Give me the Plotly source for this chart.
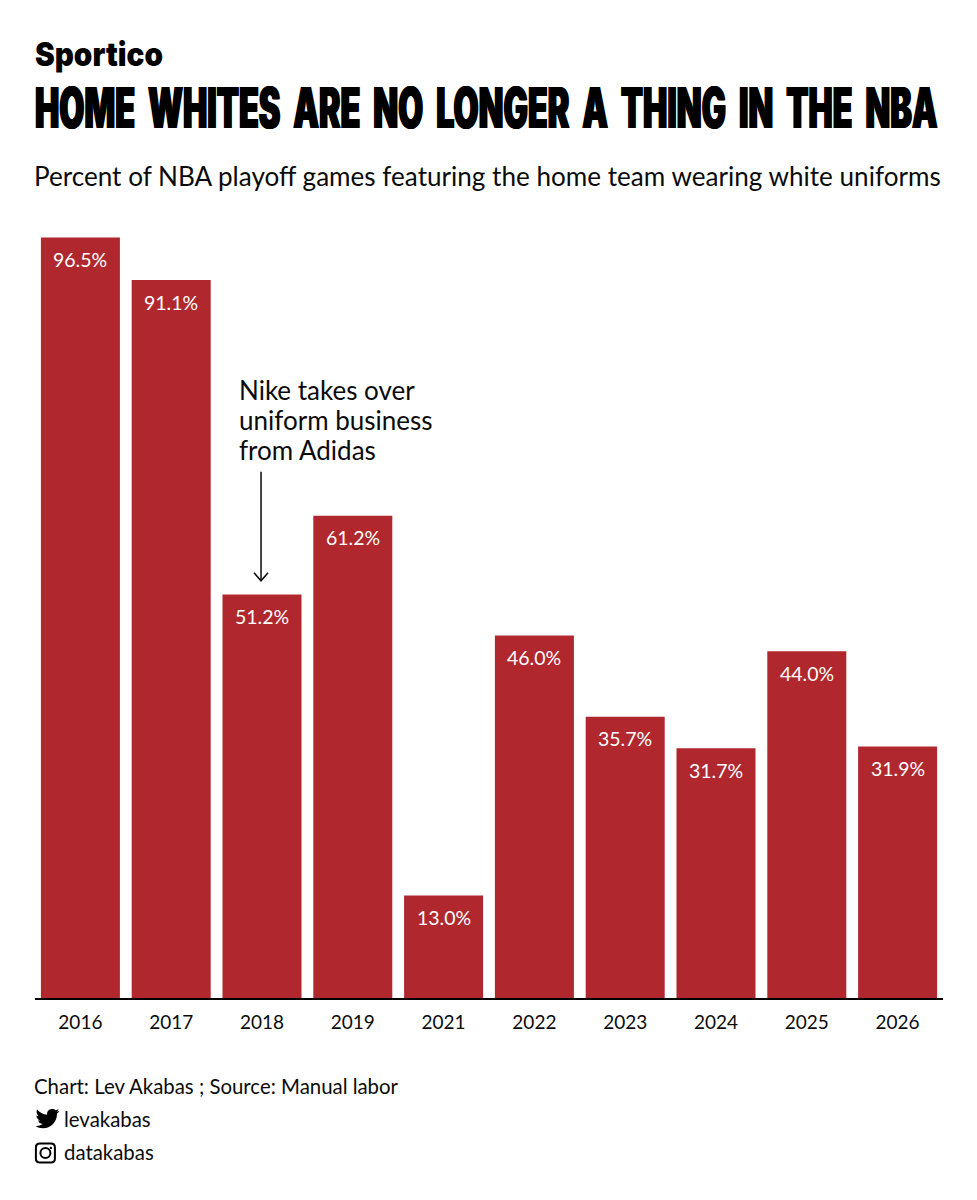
import plotly.graph_objects as go

W, H = 977, 1200

years = ["2016", "2017", "2018", "2019", "2021", "2022", "2023", "2024", "2025", "2026"]
pct_white = [96.5, 91.1, 51.2, 61.2, 13.0, 46.0, 35.7, 31.7, 44.0, 31.9]

brand = "Sportico"
headline = "HOME WHITES ARE NO LONGER A THING IN THE NBA"
subtitle = "Percent of NBA playoff games featuring the home team wearing white uniforms"
note_lines = ["Nike takes over", "uniform business", "from Adidas"]
credit = "Chart: Lev Akabas ; Source: Manual labor"
twitter = "levakabas"
instagram = "datakabas"

RED = "#B0282D"
INK = "#0b0b0b"
BODY = "Lato"

# plot area in pixels
left, right, top, bottom = 35.1, 942.6, 200, 998.5


def px(x):
    return (x - left) / (right - left)


def py(y):
    return (bottom - y) / (bottom - top)


def path(*pts):
    # tokens are either a command letter or an (x, y) pixel pair
    out = []
    for p in pts:
        out.append(p if isinstance(p, str) else f"{px(p[0]):.5f},{py(p[1]):.5f}")
    return " ".join(out)


def label(text, x, y, size, color=INK, family=BODY, **kw):
    return dict(text=text, x=px(x), y=py(y), xref="paper", yref="paper", showarrow=False,
                xanchor="left", yanchor="middle", align="left",
                font=dict(size=size, color=color, family=family, **kw))


fig = go.Figure(go.Bar(x=years, y=pct_white, marker=dict(color=RED, line_width=0), hoverinfo="skip"))

annotations = [
    label(brand, 33, 54, 33, color="#000", family="Inter", weight=900),
    # doubled spaces: the reference headline has wide word gaps
    label(headline.replace(" ", "\u00a0\u00a0"), 33, 108, 56, color="#000", family="Inter", weight=900,
          shadow="1px 0 0 #000, -1px 0 0 #000"),
    label(subtitle, 32.5, 176, 26.1),
    label(credit, 32.5, 1087, 20.4),
    label(twitter, 62.5, 1120, 20.4),
    label(instagram, 62.5, 1153, 20.4),
]
for i, line in enumerate(note_lines):
    annotations.append(label(line, 236.5, 390 + 30 * i, 26))
# value labels sit just under the top of each bar
for i, v in enumerate(pct_white):
    annotations.append(dict(text=f"{v:.1f}%", x=i, y=v, xref="x", yref="y", yshift=-22, showarrow=False,
                            yanchor="middle", font=dict(size=19.5, color="white", family=BODY)))


def bird(x0, y0):
    p = lambda a, b: (x0 + a, y0 + b)
    return path("M", p(23.95, 4.57), "L", p(21.13, 5.35), "Q", p(22.7, 4.4), p(23.29, 2.62),
                "Q", p(21.8, 3.45), p(20.16, 3.81), "C", p(18.0, 1.3), p(10.7, 2.6), p(11.78, 8.29),
                "C", p(7.69, 8.1), p(4.07, 6.13), p(1.64, 3.16), "Q", p(0.2, 6.9), p(3.16, 9.73),
                "Q", p(1.9, 9.7), p(0.93, 9.12), "L", p(0.93, 9.18), "Q", p(1.2, 13.0), p(4.88, 14.0),
                "Q", p(3.8, 14.3), p(2.67, 14.09), "Q", p(3.9, 17.3), p(7.27, 17.51),
                "Q", p(4.5, 19.9), p(0, 19.54), "C", p(2.3, 21.0), p(4.9, 21.75), p(7.56, 21.75),
                "C", p(16.6, 21.75), p(21.56, 14.26), p(21.56, 7.77), "L", p(21.54, 7.14),
                "Q", p(23.0, 6.1), p(24, 4.59), "Z")


def rounded(x0, y0, x1, y1, r):
    return path("M", (x0 + r, y0), "L", (x1 - r, y0), "Q", (x1, y0), (x1, y0 + r),
                "L", (x1, y1 - r), "Q", (x1, y1), (x1 - r, y1), "L", (x0 + r, y1),
                "Q", (x0, y1), (x0, y1 - r), "L", (x0, y0 + r), "Q", (x0, y0), (x0 + r, y0), "Z")


def ring(cx, cy, r, **kw):
    return dict(type="circle", xref="paper", yref="paper", x0=px(cx - r), x1=px(cx + r),
                y0=py(cy + r), y1=py(cy - r), **kw)


line_ink = dict(color=INK, width=1.5)
shapes = [
    dict(type="path", xref="paper", yref="paper", path=path("M", (261, 472), "L", (261, 581)), line=line_ink),
    dict(type="path", xref="paper", yref="paper", path=path("M", (254, 573), "L", (261, 581), "L", (268, 573)),
         line=line_ink),
    dict(type="path", xref="paper", yref="paper", path=bird(35.5, 1107), fillcolor="#000", line_width=0),
    dict(type="path", xref="paper", yref="paper", path=rounded(36, 1144, 55, 1163, 4),
         line=dict(color="#000", width=2)),
    ring(45.5, 1153.5, 5, line=dict(color="#000", width=2)),
    ring(51, 1148.5, 1.2, fillcolor="#000", line_width=0),
]

fig.update_layout(
    width=W, height=H,
    margin=dict(l=left, r=W - right, t=top, b=H - bottom, pad=0),
    paper_bgcolor="white", plot_bgcolor="white",
    showlegend=False, bargap=0.13,
    annotations=annotations, shapes=shapes,
    xaxis=dict(type="category", range=[-0.5, 9.5], showgrid=False, ticks="", ticklabelstandoff=6,
               showline=True, linecolor="#000", linewidth=1.5, zeroline=False,
               tickfont=dict(size=19, color=INK, family=BODY)),
    yaxis=dict(range=[0, (bottom - top) / 7.886], visible=False),
)

# no condensed heavy face is installed, so squeeze the two heavy texts to their widths
squeeze = """
document.body.style.margin = '0';
var widths = {'HOME': 903, 'Sportico': 128};
document.querySelectorAll('.annotation-text').forEach(function (t) {
  Object.keys(widths).forEach(function (k) {
    if (t.textContent.indexOf(k) === 0) {
      var b = t.getBBox();
      var s = widths[k] / b.width;
      t.setAttribute('transform', 'translate(' + b.x + ',0) scale(' + s + ',1) translate(' + (-b.x) + ',0)');
      var bg = t.parentNode.querySelector('rect.bg');
      if (bg) bg.setAttribute('width', widths[k]);
    }
  });
});
"""
fig.write_html("out.html", config=dict(displayModeBar=False), post_script=squeeze)
